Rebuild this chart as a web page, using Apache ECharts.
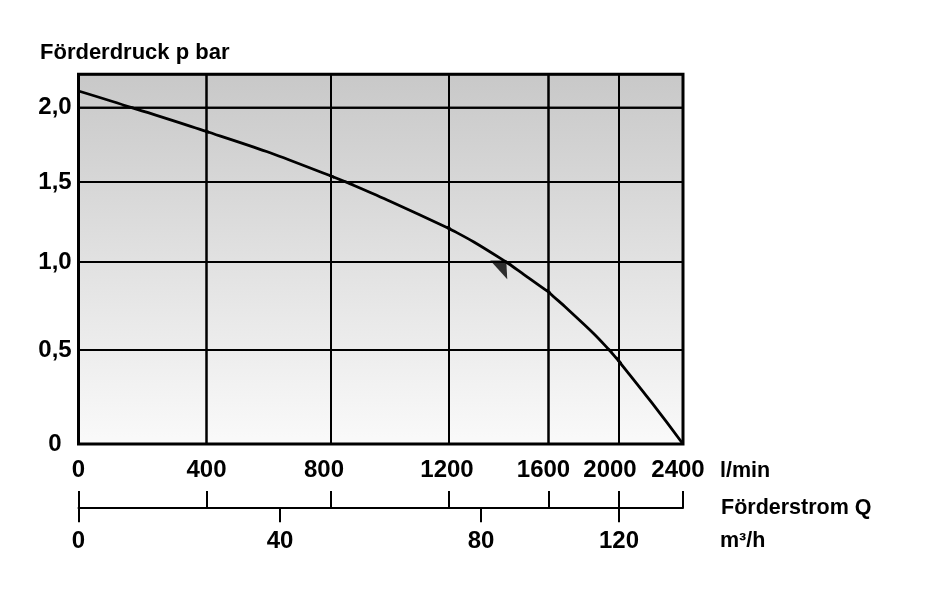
<!DOCTYPE html>
<html><head><meta charset="utf-8">
<script src="https://cdn.jsdelivr.net/npm/echarts@6/dist/echarts.min.js"></script>
<style>html,body{margin:0;padding:0;background:#fff}#c{width:932px;height:601px}</style>
</head><body><div id="c"></div>
<script>
// ---- data ----
const flowTicks = [0, 400, 800, 1200, 1600, 2000, 2400];      // Förderstrom Q, l/min
const pressureTicks = [0, 0.5, 1.0, 1.5, 2.0, 2.2];            // Förderdruck p, bar
const cubicTicks = [0, 40, 80, 120];                           // m³/h
const curveQ = [0, 166, 400, 593, 800, 851, 1000, 1200, 1300, 1430, 1500, 1600, 1700, 1860, 1945, 2000, 2200, 2400];
const curveP = [2.10, 2.00, 1.84, 1.705, 1.54, 1.50, 1.38, 1.21, 1.125, 1.00, 0.93, 0.83, 0.74, 0.59, 0.50, 0.44, 0.225, 0];
const markerQ = [1400];
const markerP = [0.955];

// ---- layout (pixel bands of the distorted reference grid) ----
const colX = [78.5, 206.5, 331, 449, 548.5, 619, 683];
const rowY = [444, 350, 262, 182, 107.7, 74.3];
const cubicX = [78.5, 280, 481, 619];
const xLabelShift = { 800: 7, 1200: 2, 1600: 5, 2000: 9, 2400: 5 };

const NUM_FONT = "'Liberation Sans', Arial, sans-serif";
const TXT_FONT = "'Liberation Sans', Arial, sans-serif";
const numStyle = { color: '#000', fontFamily: NUM_FONT, fontSize: 24, fontWeight: 'bold' };
const fmtP = v => (Math.abs(v) < 1e-9 ? '0' : v.toFixed(1).replace('.', ','));
const rich = {};
[0, 2, 5, 7, 9].forEach(s => { rich['s' + s] = Object.assign({ padding: [0, 2 * s, 0, 0] }, numStyle); });
const fmtQ = v => '{s' + (xLabelShift[v] || 0) + '|' + String(v) + '}';

const grid = [], xAxis = [], yAxis = [], series = [];
const curveData = curveQ.map((q, i) => [q, curveP[i]]);

// frame + background
grid.push({ left: colX[0], top: rowY[5], width: colX[6] - colX[0], height: rowY[0] - rowY[5],
  show: true, borderColor: '#000', borderWidth: 3, outerBoundsMode: 'none',
  backgroundColor: { type: 'linear', x: 0, y: 0, x2: 0, y2: 1,
    colorStops: [{ offset: 0, color: '#c8c8c8' }, { offset: 1, color: '#fafafa' }] } });
xAxis.push({ gridIndex: 0, type: 'value', min: 0, max: 2400, show: false });
yAxis.push({ gridIndex: 0, type: 'value', min: 0, max: 2.2, show: false });

let markerAxes = null;
const lastCol = flowTicks.length - 2;
for (let r = 0; r < pressureTicks.length - 1; r++) {
  for (let c = 0; c <= lastCol; c++) {
    const gi = grid.length;
    grid.push({ left: colX[c], top: rowY[r + 1], width: colX[c + 1] - colX[c], height: rowY[r] - rowY[r + 1],
      show: true, borderColor: '#000', borderWidth: 2, backgroundColor: 'transparent', outerBoundsMode: 'none' });
    const xi = xAxis.length;
    xAxis.push({ gridIndex: gi, type: 'value', position: 'bottom',
      min: flowTicks[c], max: flowTicks[c + 1], interval: flowTicks[c + 1] - flowTicks[c],
      axisLine: { show: false, onZero: false }, axisTick: { show: false }, splitLine: { show: false },
      axisLabel: Object.assign({ show: r === 0, showMinLabel: true, showMaxLabel: c === lastCol,
        hideOverlap: false, margin: 14.5, formatter: fmtQ, rich: rich }, numStyle) });
    const yi = yAxis.length;
    yAxis.push({ gridIndex: gi, type: 'value',
      min: pressureTicks[r], max: pressureTicks[r + 1], interval: pressureTicks[r + 1] - pressureTicks[r],
      axisLine: { show: false, onZero: false }, axisTick: { show: false }, splitLine: { show: false },
      axisLabel: Object.assign({ show: c === 0, showMinLabel: true, showMaxLabel: false, align: 'center', margin: 23.5, formatter: fmtP }, numStyle) });
    series.push({ type: 'line', xAxisIndex: xi, yAxisIndex: yi, data: curveData, symbol: 'none',
      smooth: 0.3, clip: true, silent: true, lineStyle: { color: '#000', width: 2.8 } });
    if (r === 0) {
      // second scale line (l/min ticks pointing up)
      xAxis.push({ gridIndex: gi, type: 'value', position: 'bottom', offset: 64,
        min: flowTicks[c], max: flowTicks[c + 1], interval: flowTicks[c + 1] - flowTicks[c],
        axisLine: { show: true, onZero: false, lineStyle: { color: '#000', width: 2 } },
        axisTick: { show: true, inside: true, length: 17, lineStyle: { color: '#000', width: 2 } },
        axisLabel: { show: false }, splitLine: { show: false } });
    }
    if (r === 1 && c === 3) markerAxes = [xi, yi];
  }
}

// m³/h scale
for (let j = 0; j < cubicTicks.length - 1; j++) {
  const gi = grid.length;
  grid.push({ left: cubicX[j], top: 490, width: cubicX[j + 1] - cubicX[j], height: 18.3, show: false, outerBoundsMode: 'none' });
  xAxis.push({ gridIndex: gi, type: 'value', position: 'bottom',
    min: cubicTicks[j], max: cubicTicks[j + 1], interval: cubicTicks[j + 1] - cubicTicks[j],
    axisLine: { show: false, onZero: false },
    axisTick: { show: true, inside: false, length: 14, lineStyle: { color: '#000', width: 2 } },
    axisLabel: Object.assign({ show: true, showMinLabel: true, showMaxLabel: j === cubicTicks.length - 2,
      hideOverlap: false, margin: 21, formatter: v => String(v) }, numStyle),
    splitLine: { show: false } });
  yAxis.push({ gridIndex: gi, type: 'value', show: false });
}

// duty-point marker
series.push({ type: 'scatter', xAxisIndex: markerAxes[0], yAxisIndex: markerAxes[1],
  data: markerQ.map((q, i) => [q, markerP[i]]),
  symbol: 'path://M0,0 L16,0 L17,18 Z', symbolSize: [17, 18.6], silent: true,
  itemStyle: { color: '#000' } });

const txt = (size) => ({ color: '#000', fontFamily: TXT_FONT, fontSize: size, fontWeight: 'bold' });
const chart = echarts.init(document.getElementById('c'), null, { renderer: 'canvas' });
chart.setOption({
  animation: false,
  backgroundColor: '#fff',
  title: [
    { text: 'Förderdruck p bar', left: 40, top: 42, padding: 0, textStyle: txt(22) },
    { text: 'l/min', left: 720, top: 460, padding: 0, textStyle: txt(21.5) },
    { text: 'Förderstrom Q', left: 721, top: 497, padding: 0, textStyle: txt(21.5) },
    { text: 'm³/h', left: 720, top: 530, padding: 0, textStyle: txt(21.5) }
  ],
  grid, xAxis, yAxis, series
});
</script>
</body></html>
